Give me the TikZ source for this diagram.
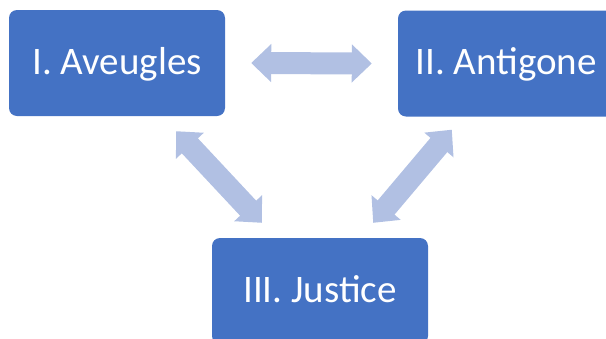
\documentclass[tikz,border=0pt]{standalone}
\usepackage{fontspec}
\setmainfont{Carlito}
\usetikzlibrary{arrows.meta}
\definecolor{boxblue}{HTML}{4472C4}
\definecolor{linkblue}{RGB}{177,192,227}
\tikzset{
  part/.style={fill=boxblue, rounded corners=8pt, minimum width=216pt,
    minimum height=106pt, inner sep=0pt, text=white,
    text height=30pt, text depth=8pt, font=\fontsize{39}{47}\selectfont},
  link/.style={draw=linkblue, line width=22pt,
    {Triangle[length=20pt,width=37pt]}-{Triangle[length=20pt,width=37pt]}}
}
\begin{document}
\begin{tikzpicture}[x=1pt,y=-1pt]
  \useasboundingbox (0,0) rectangle (606,338);
  \clip (0,0) rectangle (606,338);
  \node[part] (aveugles) at (117,63) {I. Aveugles};
  \node[part] (antigone) at (506,63.5) {II. Antigone};
  \node[part] (justice) at (320,291) {III. Justice};
  \draw[link] ([xshift=26pt]aveugles.east) -- ([xshift=-26pt]antigone.west);
  \draw[link] ([shift={(-49,15)}]aveugles.south east)
    -- ([shift={(50,-15)}]justice.north west);
  \draw[link] ([shift={(54,13)}]antigone.south west)
    -- ([shift={(-55,-15)}]justice.north east);
\end{tikzpicture}
\end{document}
